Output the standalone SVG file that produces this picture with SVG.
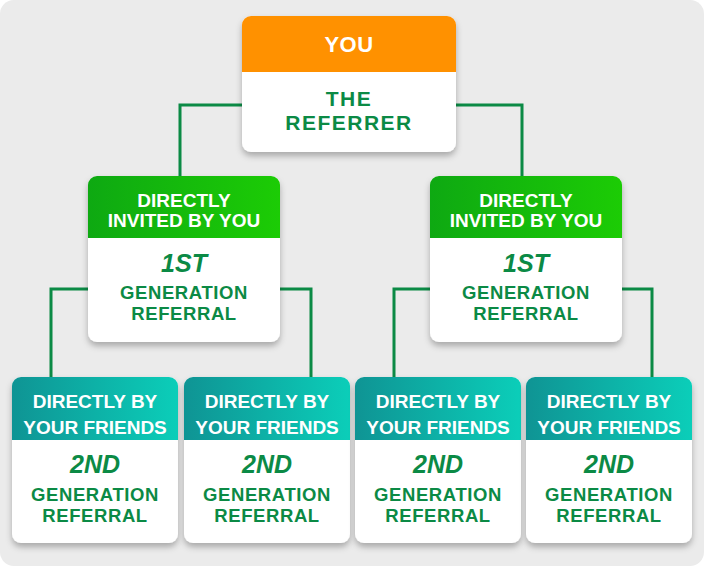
<svg xmlns="http://www.w3.org/2000/svg" width="704" height="566" viewBox="0 0 704 566">
<defs>
<linearGradient id="gGreen" x1="0" y1="0" x2="1" y2="0"><stop offset="0" stop-color="#0ea912"/><stop offset="1" stop-color="#1ccc05"/></linearGradient>
<linearGradient id="gTeal" x1="0" y1="0" x2="1" y2="0"><stop offset="0" stop-color="#0f9494"/><stop offset="1" stop-color="#0bceb9"/></linearGradient>
<filter id="sh" x="-10%" y="-10%" width="120%" height="130%"><feDropShadow dx="0" dy="4" stdDeviation="3" flood-color="#000" flood-opacity="0.28"/></filter>
<clipPath id="cTop"><rect x="242" y="16" width="214" height="136" rx="9"/></clipPath>
<clipPath id="cG1L"><rect x="88" y="176" width="192" height="166" rx="9"/></clipPath>
<clipPath id="cG1R"><rect x="430" y="176" width="192" height="166" rx="9"/></clipPath>
<clipPath id="cB1"><rect x="12" y="377" width="166" height="166" rx="9"/></clipPath>
<clipPath id="cB2"><rect x="184" y="377" width="166" height="166" rx="9"/></clipPath>
<clipPath id="cB3"><rect x="355" y="377" width="166" height="166" rx="9"/></clipPath>
<clipPath id="cB4"><rect x="526" y="377" width="166" height="166" rx="9"/></clipPath>
</defs>
<style>
text{font-family:"Liberation Sans",Arial,sans-serif;font-weight:bold;text-anchor:middle}
.hd{fill:#fff;font-size:19px}
.you{fill:#fff;font-size:22px;letter-spacing:0.5px}
.top{fill:#0b8a45;font-size:21px;letter-spacing:1.5px}
.gen{fill:#0b8a45;font-size:18.5px;letter-spacing:0.6px}
.num{fill:#0b8a45;font-size:25px;font-style:italic}
.card{fill:#fff;filter:url(#sh)}
.ln{fill:none;stroke:#0b8a45;stroke-width:3}
</style>
<rect x="0" y="0" width="704" height="566" rx="14" fill="#ebebeb"/>
<g id="connectors">
<path class="ln" d="M242 105 H180 V176"/>
<path class="ln" d="M456 105 H522 V176"/>
<path class="ln" d="M88 289 H51 V377"/>
<path class="ln" d="M280 289 H311 V377"/>
<path class="ln" d="M430 289 H394 V377"/>
<path class="ln" d="M622 289 H652 V377"/>
</g>
<g id="you">
<rect class="card" x="242" y="16" width="214" height="136" rx="9"/>
<rect x="242" y="16" width="214" height="56" fill="#ff9100" clip-path="url(#cTop)"/>
<text class="you" x="349" y="52">YOU</text>
<text class="top" x="349" y="106">THE</text>
<text class="top" x="349" y="130">REFERRER</text>
</g>
<g id="gen1-left">
<rect class="card" x="88" y="176" width="192" height="166" rx="9"/>
<rect x="88" y="176" width="192" height="62" fill="url(#gGreen)" clip-path="url(#cG1L)"/>
<text class="hd" x="184" y="207">DIRECTLY</text>
<text class="hd" x="184" y="227">INVITED BY YOU</text>
<text class="num" x="184" y="272">1ST</text>
<text class="gen" x="184" y="299">GENERATION</text>
<text class="gen" x="184" y="320">REFERRAL</text>
</g>
<g id="gen1-right">
<rect class="card" x="430" y="176" width="192" height="166" rx="9"/>
<rect x="430" y="176" width="192" height="62" fill="url(#gGreen)" clip-path="url(#cG1R)"/>
<text class="hd" x="526" y="207">DIRECTLY</text>
<text class="hd" x="526" y="227">INVITED BY YOU</text>
<text class="num" x="526" y="272">1ST</text>
<text class="gen" x="526" y="299">GENERATION</text>
<text class="gen" x="526" y="320">REFERRAL</text>
</g>
<g id="gen2-1">
<rect class="card" x="12" y="377" width="166" height="166" rx="9"/>
<rect x="12" y="377" width="166" height="63" fill="url(#gTeal)" clip-path="url(#cB1)"/>
<text class="hd" x="95" y="408">DIRECTLY BY</text>
<text class="hd" x="95" y="434">YOUR FRIENDS</text>
<text class="num" x="95" y="473">2ND</text>
<text class="gen" x="95" y="501">GENERATION</text>
<text class="gen" x="95" y="522">REFERRAL</text>
</g>
<g id="gen2-2">
<rect class="card" x="184" y="377" width="166" height="166" rx="9"/>
<rect x="184" y="377" width="166" height="63" fill="url(#gTeal)" clip-path="url(#cB2)"/>
<text class="hd" x="267" y="408">DIRECTLY BY</text>
<text class="hd" x="267" y="434">YOUR FRIENDS</text>
<text class="num" x="267" y="473">2ND</text>
<text class="gen" x="267" y="501">GENERATION</text>
<text class="gen" x="267" y="522">REFERRAL</text>
</g>
<g id="gen2-3">
<rect class="card" x="355" y="377" width="166" height="166" rx="9"/>
<rect x="355" y="377" width="166" height="63" fill="url(#gTeal)" clip-path="url(#cB3)"/>
<text class="hd" x="438" y="408">DIRECTLY BY</text>
<text class="hd" x="438" y="434">YOUR FRIENDS</text>
<text class="num" x="438" y="473">2ND</text>
<text class="gen" x="438" y="501">GENERATION</text>
<text class="gen" x="438" y="522">REFERRAL</text>
</g>
<g id="gen2-4">
<rect class="card" x="526" y="377" width="166" height="166" rx="9"/>
<rect x="526" y="377" width="166" height="63" fill="url(#gTeal)" clip-path="url(#cB4)"/>
<text class="hd" x="609" y="408">DIRECTLY BY</text>
<text class="hd" x="609" y="434">YOUR FRIENDS</text>
<text class="num" x="609" y="473">2ND</text>
<text class="gen" x="609" y="501">GENERATION</text>
<text class="gen" x="609" y="522">REFERRAL</text>
</g>
</svg>
